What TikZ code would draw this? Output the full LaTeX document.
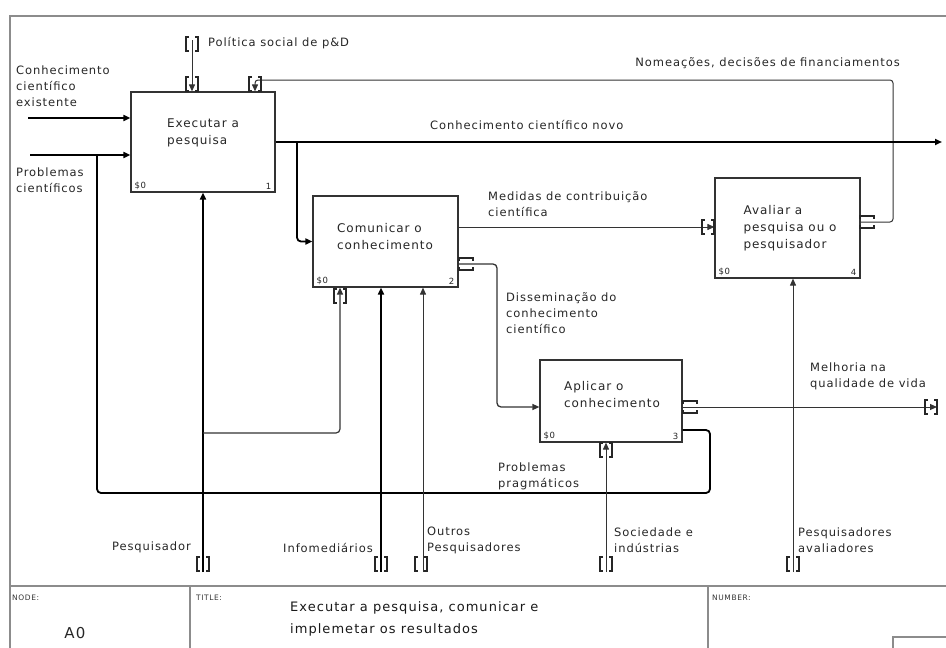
\documentclass[tikz,border=0pt]{standalone}
\usepackage{fontspec}
\setmainfont{DejaVu Sans}[LetterSpace=8]
\usetikzlibrary{arrows.meta,calc}

\begin{document}
\begin{tikzpicture}[x=1pt,y=-1pt,
  lbl/.style={font=\fontsize{11.5}{16}\selectfont, align=left, inner sep=0pt, text=black!85},
  boxtxt/.style={font=\fontsize{12}{17}\selectfont, align=left, text=black!85},
  procbox/.style={draw=black!80, line width=1.2pt, fill=white, rectangle, inner sep=0pt},
  corner/.style={font=\fontsize{8.5}{9}\selectfont, inner sep=0pt, text=black!85},
  heavy/.style={line width=1.8pt, draw=black},
  light/.style={line width=1pt, draw=black!80},
  tip/.style={-{Triangle[length=7pt,width=6pt]}},
  tunnel/.style={line width=1.1pt, draw=black!85},
  frame/.style={line width=1.2pt, draw=black!45},
  small/.style={font=\fontsize{7.5}{9}\selectfont, inner sep=0pt, text=black!80},
  vtun/.pic={\draw[tunnel] (-3,-7) -- (-6,-7) -- (-6,7) -- (-3,7) (3,-7) -- (6,-7) -- (6,7) -- (3,7);},
  htun/.pic={\draw[tunnel] (-7,-3) -- (-7,-6) -- (7,-6) -- (7,-3) (-7,3) -- (-7,6) -- (7,6) -- (7,3);}
]
\useasboundingbox (0,0) rectangle (946,648);

% sheet frame and title block
\draw[frame] (946,16) -- (10,16) -- (10,648);
\draw[frame] (10,586) -- (946,586);
\draw[frame] (190,586) -- (190,648);
\draw[frame] (708,586) -- (708,648);
\draw[frame] (893,648) -- (893,637) -- (946,637);
\node[small, anchor=west] (tnode) at (12,598) {NODE:};
\node[small, anchor=west] (ttitle) at (196,598) {TITLE:};
\node[small, anchor=west] (tnum) at (712,598) {NUMBER:};
\node[font=\fontsize{15}{18}\selectfont, inner sep=0pt, text=black!85] (tA0) at (75,633) {A0};
\node[font=\fontsize{13}{22}\selectfont, align=left, anchor=north west, inner sep=0pt, text=black!90] (ttext) at (290,601)
  {Executar a pesquisa, comunicar e\\implemetar os resultados};

% activity boxes
\node[procbox, minimum width=144pt, minimum height=100pt] (b1) at (203,142) {};
\node[procbox, minimum width=145pt, minimum height=91pt] (b2) at (385.5,241.5) {};
\node[procbox, minimum width=142pt, minimum height=82pt] (b3) at (611,401) {};
\node[procbox, minimum width=145pt, minimum height=100pt] (b4) at (787.5,228) {};

\node[boxtxt] (b1t) at (203,133) {Executar a\\pesquisa};
\node[boxtxt] (b2t) at (385,237) {Comunicar o\\conhecimento};
\node[boxtxt] (b3t) at (612,395) {Aplicar o\\conhecimento};
\node[boxtxt] (b4t) at (790,228) {Avaliar a\\pesquisa ou o\\pesquisador};

\foreach \b/\n in {b1/1,b2/2,b3/3,b4/4}{
  \node[corner, anchor=south west] (\b c) at ($(\b.south west)+(4,-3)$) {\$0};
  \node[corner, anchor=south east] (\b n) at ($(\b.south east)+(-4,-3)$) {\n};
}

% helper points
\coordinate (inK) at (28,118);
\coordinate (inP) at (30,155);
\coordinate (fbA) at (710,430);
\coordinate (fbB) at (97,493);
\coordinate (pol) at (192,40);
\coordinate (nomA) at (893,222);
\coordinate (nomB) at (255,80);
\coordinate (novo) at (942,142);
\coordinate (br12) at (297,142);
\coordinate (med) at (600,227);
\coordinate (dsA) at (497,264);
\coordinate (dsB) at (520,407);
\coordinate (mel) at (937,407);
\coordinate (pesq) at (203,572);
\coordinate (pbr) at (203,433);
\coordinate (pbrC) at (340,433);
\coordinate (info) at (381,572);
\coordinate (outr) at (423,572);
\coordinate (soc) at (606,572);
\coordinate (aval) at (793,572);

% inputs
\draw[heavy, tip] (inK) -- (inK -| b1.west);
\draw[heavy, tip] (inP) -- (inP -| b1.west);
\draw[heavy, rounded corners=4] (b3.east |- fbA) -- (fbA) -- (fbA |- fbB) -- (fbB) -- (fbB |- inP);

% controls
\draw[light, tip] (pol) -- (pol |- b1.north);
\pic at (192,44) {vtun};
\pic at (192,84) {vtun};
\draw[light, tip, rounded corners=3] (b4.east |- nomA) -- (nomA) -- (nomA |- nomB) -- (nomB) -- (nomB |- b1.north);
\pic at (867,222) {htun};
\pic at (255,84) {vtun};

% outputs
\draw[heavy, tip] (b1.east |- novo) -- (novo);
\draw[heavy, tip, rounded corners=4] (br12) -- (br12 |- b2.west) -- (b2.west);
\draw[light, tip] (b2.east |- med) -- (b4.west |- med);
\pic at (708,227) {vtun};
\draw[light, line width=1.3pt, tip, rounded corners=4] (b2.east |- dsA) -- (dsA) -- (dsA |- dsB) -- (b3.west |- dsB);
\pic at (466,264) {htun};
\draw[light, tip] (b3.east |- mel) -- (mel);
\pic at (690,407) {htun};
\pic at (931,407) {vtun};

% mechanisms
\draw[heavy, tip] (pesq) -- (pesq |- b1.south);
\draw[light, line width=1.2pt, tip, rounded corners=4] (pbr) -- (pbrC) -- (pbrC |- b2.south);
\pic at (340,296) {vtun};
\draw[heavy, tip] (info) -- (info |- b2.south);
\draw[light, tip] (outr) -- (outr |- b2.south);
\draw[light, tip] (soc) -- (soc |- b3.south);
\pic at (606,450) {vtun};
\draw[light, tip] (aval) -- (aval |- b4.south);
\foreach \x in {203,381,421,606,793} \pic at (\x,564) {vtun};

% arrow labels
\node[lbl, anchor=west] (lK) at (16,86) {Conhecimento\\científico\\existente};
\node[lbl, anchor=west] (lP) at (16,180) {Problemas\\científicos};
\node[lbl, anchor=west] (lPol) at (208,43) {Política social de p\&D};
\node[lbl, anchor=east] (lNom) at (900,63) {Nomeações, decisões de financiamentos};
\node[lbl, anchor=west] (lNovo) at (430,125) {Conhecimento científico novo};
\node[lbl, anchor=west] (lMed) at (488,204) {Medidas de contribuição\\científica};
\node[lbl, anchor=west] (lDs) at (506,313) {Disseminação do\\conhecimento\\científico};
\node[lbl, anchor=west] (lMel) at (810,376) {Melhoria na\\qualidade de vida};
\node[lbl, anchor=west] (lPp) at (498,476) {Problemas\\pragmáticos};
\node[lbl, anchor=east] (lPesq) at (191,547) {Pesquisador};
\node[lbl, anchor=east] (lInfo) at (373,548) {Infomediários};
\node[lbl, anchor=west] (lOut) at (427,540) {Outros\\Pesquisadores};
\node[lbl, anchor=west] (lSoc) at (614,540) {Sociedade e\\indústrias};
\node[lbl, anchor=west] (lAval) at (798,540) {Pesquisadores\\avaliadores};
\end{tikzpicture}
\end{document}
